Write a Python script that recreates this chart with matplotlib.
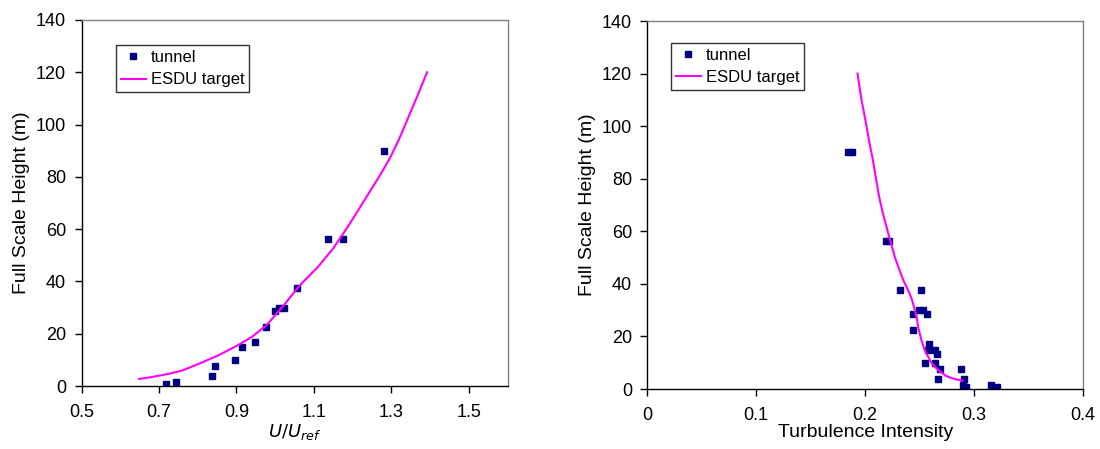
import numpy as np
import matplotlib
matplotlib.use("Agg")
import matplotlib.pyplot as plt

plt.rcParams['font.family'] = ['Liberation Sans', 'DejaVu Sans']
plt.rcParams['font.size'] = 13

# Mean velocity profile: tunnel measurements
vel_tunnel_u = [0.718, 0.745, 0.836, 0.845, 0.895, 0.914, 0.949, 0.977, 0.999,
                1.010, 1.023, 1.056, 1.137, 1.176, 1.280]
vel_tunnel_z = [0.75, 1.5, 3.75, 7.5, 10, 15, 17, 22.5, 28.5,
                30, 30, 37.5, 56.25, 56.25, 90]

# Mean velocity profile: ESDU target
vel_esdu_u = [0.649, 0.680, 0.720, 0.760, 0.806, 0.850, 0.900, 0.940, 0.978, 1.020,
              1.064, 1.110, 1.150, 1.190, 1.236, 1.270, 1.296, 1.320, 1.348, 1.370, 1.392]
vel_esdu_z = [2.7, 3.4, 4.5, 5.9, 8.7, 11.5, 15.3, 18.8, 23.3, 30.5,
              38.6, 45.5, 52.7, 61.5, 72.4, 80.5, 87.1, 94.5, 104.3, 112, 120]

# Turbulence intensity: tunnel measurements
ti_tunnel_i = [0.1844, 0.1881, 0.2196, 0.2220, 0.2318, 0.2517, 0.2495, 0.2527,
               0.2435, 0.2572, 0.2435, 0.2587, 0.2581, 0.2646, 0.2664, 0.2554,
               0.2646, 0.2688, 0.2881, 0.2670, 0.2908, 0.2903, 0.3153, 0.2930, 0.3211]
ti_tunnel_z = [90, 90, 56.25, 56.25, 37.5, 37.5, 30, 30,
               28.5, 28.5, 22.5, 17, 15, 15, 13.3, 10,
               10, 7.5, 7.5, 3.75, 3.75, 1.5, 1.5, 0.75, 0.75]

# Turbulence intensity: ESDU target
ti_esdu_i = [0.1930, 0.1948, 0.1967, 0.1990, 0.2013, 0.2040, 0.2068, 0.2098, 0.2128,
             0.2160, 0.2196, 0.2235, 0.2272, 0.2310, 0.2349, 0.2390, 0.2426, 0.2450,
             0.2472, 0.2490, 0.2517, 0.2545, 0.2578, 0.2605, 0.2639, 0.2690, 0.2747,
             0.2820, 0.2894]
ti_esdu_z = [120, 115, 109.9, 105, 99.8, 93.5, 87.8, 80.5, 73.2,
             67.3, 61.7, 55.8, 50.3, 45.8, 41.5, 38.0, 34.5, 31.0,
             27.5, 23.0, 18.6, 15.0, 12.3, 10.2, 8.5, 6.5, 4.9,
             3.8, 3.2]

navy = '#000080'
magenta = '#ff00ff'

fig = plt.figure(figsize=(11, 4.49), dpi=100)
ax1 = fig.add_axes([0.0741, 0.1403, 0.3874, 0.8152])
ax2 = fig.add_axes([0.5885, 0.1336, 0.3960, 0.8196])


def style_axes(ax):
    ax.spines['left'].set_color('black')
    ax.spines['bottom'].set_color('black')
    ax.spines['top'].set_color('#808080')
    ax.spines['right'].set_color('#808080')
    for s in ax.spines.values():
        s.set_linewidth(1.0)
    ax.tick_params(axis='x', direction='out', length=5, width=1, pad=8,
                   top=False, labelsize=13)
    ax.tick_params(axis='y', direction='out', length=5, width=1, pad=6,
                   right=False, labelsize=13)
    ax.set_ylim(0, 140)
    ax.set_yticks(np.arange(0, 141, 20))
    ax.set_ylabel('Full Scale Height (m)', fontsize=14, labelpad=4)


def add_legend(ax, anchor):
    leg = ax.legend(loc='upper left', bbox_to_anchor=anchor, frameon=True,
                    fancybox=False, edgecolor='black', handlelength=1.5,
                    handletextpad=0.3, borderpad=0.3, borderaxespad=0,
                    labelspacing=0.45, fontsize=12)
    leg.get_frame().set_linewidth(1.0)
    return leg


# Left: velocity profile
ax1.plot(vel_tunnel_u, vel_tunnel_z, 's', color=navy, markersize=4.3,
         linestyle='none', label='tunnel')
ax1.plot(vel_esdu_u, vel_esdu_z, '-', color=magenta, lw=1.5, label='ESDU target')
ax1.set_xlim(0.5, 1.6)
ax1.set_xticks([0.5, 0.7, 0.9, 1.1, 1.3, 1.5])
ax1.set_xticklabels(['0.5', '0.7', '0.9', '1.1', '1.3', '1.5'])
style_axes(ax1)
ax1.set_xlabel(r'$\mathit{U/U}_{\mathit{ref}}$', fontsize=13, labelpad=1)
add_legend(ax1, (0.0805, 0.932))

# Right: turbulence intensity
ax2.plot(ti_tunnel_i, ti_tunnel_z, 's', color=navy, markersize=4.3,
         linestyle='none', label='tunnel')
ax2.plot(ti_esdu_i, ti_esdu_z, '-', color=magenta, lw=1.5, label='ESDU target')
ax2.set_xlim(0, 0.4)
ax2.set_xticks([0, 0.1, 0.2, 0.3, 0.4])
ax2.set_xticklabels(['0', '0.1', '0.2', '0.3', '0.4'])
style_axes(ax2)
ax2.set_xlabel('Turbulence Intensity', fontsize=14, labelpad=0)
add_legend(ax2, (0.054, 0.941))

fig.savefig('out.png', dpi=100)
